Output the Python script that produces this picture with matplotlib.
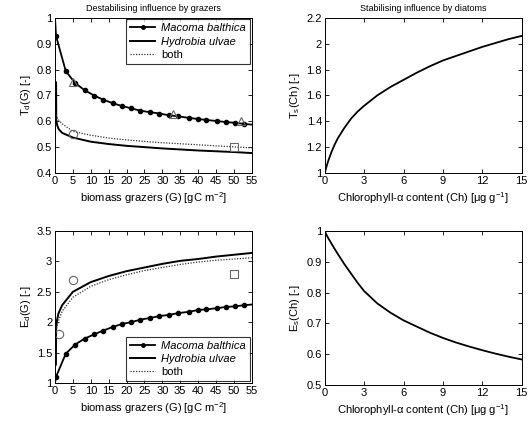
import matplotlib
matplotlib.use("Agg")
import matplotlib.pyplot as plt
from matplotlib.lines import Line2D

plt.rcParams['font.family'] = ['Liberation Sans', 'DejaVu Sans']
plt.rcParams['mathtext.default'] = 'regular'
plt.rcParams['font.size'] = 8

# ---------------- data ----------------
# Top-left: T_d(G)
td_mac_x = [0, 0.28, 3.0, 5.6, 8.3, 11.0, 13.4, 16.1, 18.7, 21.3, 23.8, 26.6, 29.2, 31.9, 34.5,
            37.4, 39.9, 42.3, 45.2, 47.7, 50.3, 52.9, 55]
td_mac_y = [1.0, 0.93, 0.794, 0.748, 0.72, 0.699, 0.684, 0.67, 0.659, 0.65, 0.641, 0.635, 0.63,
            0.623, 0.619, 0.613, 0.609, 0.605, 0.601, 0.597, 0.594, 0.59, 0.587]
td_hyd_x = [0.3, 0.35, 0.6, 1, 2, 5, 10, 15, 20, 25, 30, 35, 40, 45, 50, 55]
td_hyd_y = [0.75, 0.605, 0.585, 0.57, 0.555, 0.537, 0.521, 0.512, 0.505, 0.5, 0.495, 0.491,
            0.487, 0.484, 0.481, 0.477]
td_both_x = [0.3, 0.5, 1, 2, 5, 10, 15, 20, 25, 30, 35, 40, 45, 50, 55]
td_both_y = [0.625, 0.615, 0.605, 0.59, 0.561, 0.546, 0.535, 0.528, 0.522, 0.517, 0.513,
             0.509, 0.505, 0.501, 0.497]
td_tri_x = [5, 33, 52]
td_tri_y = [0.75, 0.63, 0.60]
td_circ_x = [5]
td_circ_y = [0.55]
td_sq_x = [50]
td_sq_y = [0.50]

# Bottom-left: E_d(G)
ed_mac_x = [0, 0.28, 3.0, 5.6, 8.3, 11.0, 13.4, 16.1, 18.7, 21.3, 23.8, 26.6, 29.2, 31.9, 34.5,
            37.4, 39.9, 42.3, 45.2, 47.7, 50.3, 52.9, 55]
ed_mac_y = [1.0, 1.1, 1.48, 1.63, 1.73, 1.8, 1.86, 1.92, 1.97, 2.0, 2.04, 2.07, 2.1, 2.12, 2.15,
            2.17, 2.2, 2.21, 2.23, 2.25, 2.26, 2.28, 2.29]
ed_hyd_x = [0.25, 0.3, 0.55, 1, 2, 5, 10, 15, 20, 25, 30, 35, 40, 45, 50, 55]
ed_hyd_y = [1.3, 1.9, 2.03, 2.15, 2.28, 2.5, 2.66, 2.76, 2.84, 2.9, 2.96, 3.01, 3.04, 3.08,
            3.11, 3.14]
ed_both_x = [0.3, 0.5, 1, 2, 5, 10, 15, 20, 25, 30, 35, 40, 45, 50, 55]
ed_both_y = [1.85, 1.92, 2.03, 2.18, 2.41, 2.59, 2.7, 2.78, 2.85, 2.9, 2.95, 2.99, 3.02,
             3.04, 3.06]
ed_circ_x = [1, 5]
ed_circ_y = [1.8, 2.7]
ed_sq_x = [50]
ed_sq_y = [2.8]

# Top-right: T_s(Ch)
ch_x = [0, 0.1, 0.25, 0.5, 0.75, 1, 1.5, 2, 2.5, 3, 4, 5, 6, 7, 8, 9, 10, 11, 12, 13, 14, 15]
ts_y = [1.0, 1.04, 1.09, 1.16, 1.22, 1.27, 1.35, 1.42, 1.475, 1.52, 1.6, 1.665, 1.72, 1.775,
        1.825, 1.87, 1.905, 1.94, 1.975, 2.005, 2.035, 2.06]
# Bottom-right: E_s(Ch)
es_y = [1.0, 0.99, 0.978, 0.96, 0.942, 0.925, 0.892, 0.862, 0.832, 0.805, 0.765, 0.735, 0.71,
        0.69, 0.67, 0.653, 0.638, 0.625, 0.613, 0.602, 0.592, 0.583]

legend_labels = ['Macoma balthica', 'Hydrobia ulvae', 'both']
g_ticks = list(range(0, 56, 5))
ch_ticks = [0, 3, 6, 9, 12, 15]

# ---------------- figure ----------------
fig = plt.figure(figsize=(5.29, 4.24), dpi=100)
ax1 = fig.add_axes([0.104, 0.592, 0.372, 0.366])
ax2 = fig.add_axes([0.614, 0.592, 0.372, 0.366])
ax3 = fig.add_axes([0.104, 0.097, 0.372, 0.358])
ax4 = fig.add_axes([0.614, 0.092, 0.372, 0.363])

def style(ax):
    ax.tick_params(direction='in', top=True, right=True, length=3, width=0.6, labelsize=8, pad=2)
    for s in ax.spines.values():
        s.set_linewidth(0.7)

gray = '#666666'
mk = dict(linestyle='none', markerfacecolor='none', markeredgecolor=gray, markersize=6, markeredgewidth=0.8)

def grazer_panel(ax, mx, my, hx, hy, bx, by):
    ax.plot(mx, my, color='black', lw=1.3)
    ax.plot(mx[1:-1], my[1:-1], linestyle='none', color='black', marker='o', markersize=3)
    ax.plot(hx, hy, color='black', lw=1.4)
    ax.plot(bx, by, color='#333333', lw=0.9, linestyle=(0, (1, 1.2)))
    return [Line2D([], [], color='black', lw=1.3, marker='o', markersize=2.5),
            Line2D([], [], color='black', lw=1.4),
            Line2D([], [], color='#333333', lw=0.9, linestyle=(0, (1, 1.2)))]

def add_legend(ax, h, loc):
    leg = ax.legend(h, legend_labels, loc=loc, fontsize=8, handlelength=2.2, numpoints=1,
                    borderaxespad=0.15, frameon=True, fancybox=False, edgecolor='black',
                    borderpad=0.35, labelspacing=0.3, handletextpad=0.6)
    leg.get_frame().set_linewidth(0.8)
    for t in leg.get_texts()[:2]:
        t.set_style('italic')

xlab_g = 'biomass grazers (G) [gC m$^{-2}$]'
xlab_ch = r'Chlorophyll-$\alpha$ content (Ch) [$\mu$g g$^{-1}$]'

# top-left
h = grazer_panel(ax1, td_mac_x, td_mac_y, td_hyd_x, td_hyd_y, td_both_x, td_both_y)
ax1.plot(td_tri_x, td_tri_y, marker='^', **mk)
ax1.plot(td_circ_x, td_circ_y, marker='o', **mk)
ax1.plot(td_sq_x, td_sq_y, marker='s', **mk)
ax1.set_xlim(0, 55)
ax1.set_ylim(0.4, 1.0)
ax1.set_xticks(g_ticks)
ax1.set_yticks([0.4, 0.5, 0.6, 0.7, 0.8, 0.9, 1.0])
ax1.set_yticklabels(['0.4', '0.5', '0.6', '0.7', '0.8', '0.9', '1'])
ax1.set_ylabel('T$_d$(G) [-]', fontsize=8, labelpad=3)
ax1.set_xlabel(xlab_g, fontsize=8, labelpad=3)
ax1.set_title('Destabilising influence by grazers', fontsize=6.5, pad=5)
add_legend(ax1, h, 'upper right')
style(ax1)

# top-right
ax2.plot(ch_x, ts_y, color='black', lw=1.3)
ax2.set_xlim(0, 15)
ax2.set_ylim(1.0, 2.2)
ax2.set_xticks(ch_ticks)
ax2.set_yticks([1.0, 1.2, 1.4, 1.6, 1.8, 2.0, 2.2])
ax2.set_yticklabels(['1', '1.2', '1.4', '1.6', '1.8', '2', '2.2'])
ax2.set_ylabel('T$_s$(Ch) [-]', fontsize=8, labelpad=3)
ax2.set_xlabel(xlab_ch, fontsize=8, labelpad=3)
ax2.set_title('Stabilising influence by diatoms', fontsize=6.5, pad=5)
style(ax2)

# bottom-left
h = grazer_panel(ax3, ed_mac_x, ed_mac_y, ed_hyd_x, ed_hyd_y, ed_both_x, ed_both_y)
ax3.plot(ed_circ_x, ed_circ_y, marker='o', **mk)
ax3.plot(ed_sq_x, ed_sq_y, marker='s', **mk)
ax3.set_xlim(0, 55)
ax3.set_ylim(1.0, 3.5)
ax3.set_xticks(g_ticks)
ax3.set_yticks([1.0, 1.5, 2.0, 2.5, 3.0, 3.5])
ax3.set_yticklabels(['1', '1.5', '2', '2.5', '3', '3.5'])
ax3.set_ylabel('E$_d$(G) [-]', fontsize=8, labelpad=3)
ax3.set_xlabel(xlab_g, fontsize=8, labelpad=3)
add_legend(ax3, h, 'lower right')
style(ax3)

# bottom-right
ax4.plot(ch_x, es_y, color='black', lw=1.3)
ax4.set_xlim(0, 15)
ax4.set_ylim(0.5, 1.0)
ax4.set_xticks(ch_ticks)
ax4.set_yticks([0.5, 0.6, 0.7, 0.8, 0.9, 1.0])
ax4.set_yticklabels(['0.5', '0.6', '0.7', '0.8', '0.9', '1'])
ax4.set_ylabel('E$_s$(Ch) [-]', fontsize=8, labelpad=3)
ax4.set_xlabel(xlab_ch, fontsize=8, labelpad=3)
style(ax4)

fig.savefig('out.png', dpi=100)
